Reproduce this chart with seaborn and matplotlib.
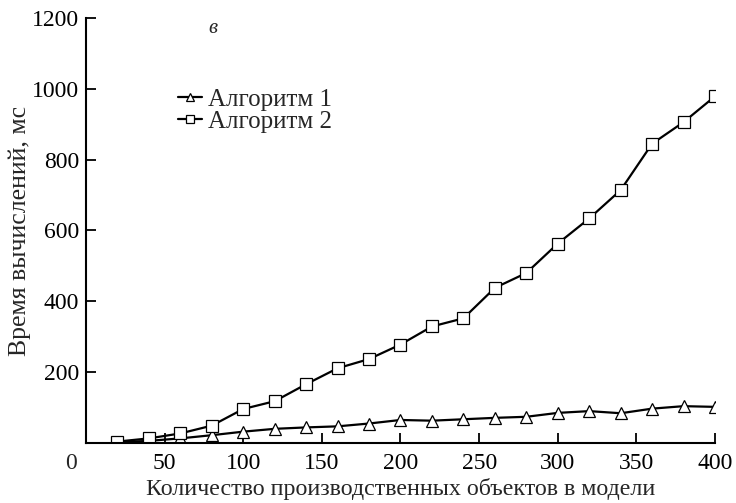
import numpy as np
import pandas as pd
import seaborn as sns
import matplotlib
matplotlib.use("Agg")
import matplotlib.pyplot as plt

# Data
n_objects = [20, 40, 60, 80, 100, 120, 140, 160, 180, 200,
             220, 240, 260, 280, 300, 320, 340, 360, 380, 400]
alg1_ms = [2, 6, 13, 22, 32, 40, 44, 47, 55, 65,
           63, 67, 71, 74, 85, 90, 84, 97, 104, 102]
alg2_ms = [4, 13, 27, 49, 96, 118, 166, 211, 237, 278,
           329, 352, 438, 480, 563, 634, 714, 845, 906, 979]
series_names = ["Алгоритм 1", "Алгоритм 2"]
x_ticks = [0, 50, 100, 150, 200, 250, 300, 350, 400]
y_ticks = [200, 400, 600, 800, 1000, 1200]
panel_label = "в"
x_label = "Количество производственных объектов в модели"
y_label = "Время вычислений, мс"

sns.set_style("ticks")
plt.rcParams["font.family"] = ["Liberation Serif", "DejaVu Serif"]

fig = plt.figure(figsize=(7.36, 5.03), dpi=100)
ax = fig.add_axes([0.1168, 0.1193, 0.9715 - 0.1168, 0.9642 - 0.1193])

df1 = pd.DataFrame({"x": n_objects, "y": alg1_ms})
df2 = pd.DataFrame({"x": n_objects, "y": alg2_ms})

common = dict(color="black", linewidth=1.6, markersize=8,
              markerfacecolor="white", markeredgecolor="black",
              markeredgewidth=0.9)
sns.lineplot(data=df1, x="x", y="y", marker="^", ax=ax, label=series_names[0], **common)
sns.lineplot(data=df2, x="x", y="y", marker="s", ax=ax, label=series_names[1], **common)

ax.set_xlim(0, 400)
ax.set_ylim(0, 1200)
ax.set_xticks(x_ticks)
ax.set_xticklabels([""] + [str(t) for t in x_ticks[1:]])
ax.set_yticks(y_ticks)
ax.set_yticklabels([str(t) for t in y_ticks])
ax.tick_params(direction="in", length=7, width=1.3, labelsize=17, colors="black")
ax.tick_params(axis="x", pad=7)
ax.tick_params(axis="y", pad=5)

for s in ["top", "right"]:
    ax.spines[s].set_visible(False)
for s in ["left", "bottom"]:
    ax.spines[s].set_linewidth(1.5)
    ax.spines[s].set_color("black")

ax.annotate("0", xy=(0, 0), xycoords="data", xytext=(-11, -7),
            textcoords="offset points", ha="center", va="top", fontsize=17)

ax.set_xlabel(x_label, fontsize=17.3, labelpad=3)
ax.set_ylabel(y_label, fontsize=18.5, labelpad=1)

ax.text(0.202, 0.975, panel_label, transform=ax.transAxes, fontsize=15,
        style="italic", ha="center", va="center")

leg = ax.legend(loc="upper left", bbox_to_anchor=(0.147, 0.835), frameon=False,
                fontsize=18, handlelength=0.95, handletextpad=0.25,
                labelspacing=0.0, borderpad=0, borderaxespad=0, markerscale=0.7)

fig.savefig("out.png", dpi=100)
